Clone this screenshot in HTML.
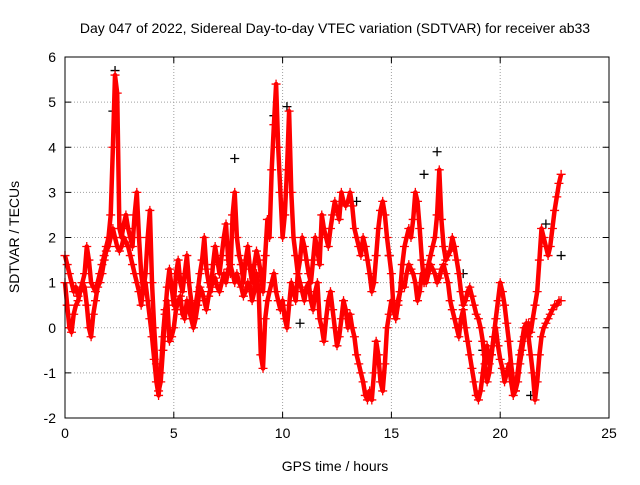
<!DOCTYPE html>
<html><head><meta charset="utf-8"><style>
body{margin:0;background:#fff}
svg text{font-family:"Liberation Sans",sans-serif;fill:#000}
</style></head><body>
<svg id="chart" width="640" height="480" xmlns="http://www.w3.org/2000/svg">
<rect width="640" height="480" fill="#fff"/>
<text x="335" y="33" font-size="14" text-anchor="middle">Day 047 of 2022, Sidereal Day-to-day VTEC variation (SDTVAR) for receiver ab33</text>
<text x="0" y="0" font-size="14" text-anchor="middle" transform="translate(19,237) rotate(-90)">SDTVAR / TECUs</text>
<text x="335" y="471" font-size="14" text-anchor="middle">GPS time / hours</text>
<g id="grid"></g>
<g id="ticks"></g>
<g id="marks"></g>
<rect x="65" y="57" width="544" height="361" fill="none" stroke="#000" stroke-width="1"/>
</svg>
<script>
const xTicks=[0,5,10,15,20,25];
const yTicks=[-2,-1,0,1,2,3,4,5,6];
const step=0.1;
const trackA=[1.6,1.4,1.2,1.0,0.8,0.9,0.7,0.8,1.0,1.2,
1.8,1.5,1.0,0.9,0.8,1.0,1.2,1.4,1.6,1.8,
2.0,2.5,4.0,5.6,5.2,2.2,2.0,2.3,2.5,2.2,
2.0,1.8,2.5,3.0,2.0,1.2,0.8,1.2,2.0,2.6,
1.0,0.0,-0.8,-1.4,-1.2,-0.5,0.3,0.9,1.3,0.9,
0.5,1.2,1.5,1.0,0.8,1.2,1.6,1.0,0.6,0.3,
0.5,0.8,1.2,1.5,2.0,1.3,1.0,0.8,1.4,1.8,
1.5,1.2,1.6,2.0,2.3,1.5,1.2,2.5,3.0,2.0,
1.6,1.4,1.0,1.5,1.8,1.3,1.0,1.4,1.7,1.5,
1.2,0.8,1.6,2.4,2.0,3.5,4.5,5.4,4.0,3.0,
2.0,2.5,3.5,4.8,3.0,2.0,1.6,1.2,1.5,2.0,
1.8,1.5,1.2,1.0,1.5,2.0,1.7,1.4,2.5,2.2,
2.0,1.8,2.2,2.5,2.8,2.6,2.4,3.0,2.8,2.7,
2.8,3.0,2.7,2.2,2.0,1.8,1.6,2.0,1.8,1.5,
1.2,0.8,1.0,1.6,2.2,2.6,2.8,2.5,2.0,1.6,
1.2,0.4,0.2,0.6,0.8,1.4,1.8,2.0,2.2,2.0,
2.4,3.0,2.8,2.2,1.5,1.0,1.2,1.4,1.6,1.8,
2.0,2.5,3.5,2.4,1.8,1.5,1.6,1.7,2.0,1.8,
1.5,1.2,0.8,0.5,0.6,0.8,0.9,0.7,0.5,0.3,
0.2,0.0,-0.3,-0.8,-1.2,-1.0,-0.6,-0.2,0.2,0.6,
1.0,0.8,0.5,0.1,-0.3,-0.8,-1.2,-1.4,-1.2,-0.8,
-0.5,-0.2,0.0,0.1,-0.1,0.2,0.5,0.8,1.5,2.2,
2.0,1.8,1.6,1.8,2.2,2.6,2.9,3.2,3.4];
const trackB=[1.0,0.5,0.0,-0.1,0.3,0.5,0.6,0.8,1.0,0.9,
0.5,0.0,-0.2,0.3,0.6,0.9,1.0,1.2,1.5,1.7,
1.8,2.0,2.2,2.0,1.8,1.7,1.8,2.0,1.9,1.8,
1.6,1.4,1.2,1.0,0.8,0.5,0.9,1.0,0.6,0.2,
-0.2,-0.7,-1.2,-1.5,-1.0,-0.2,0.4,0.6,-0.3,-0.2,
0.0,0.4,0.6,0.7,0.3,0.2,0.6,0.4,0.2,0.0,
0.2,0.5,0.9,0.8,0.6,0.4,0.7,0.9,1.0,1.1,
0.9,0.8,1.0,1.2,1.0,1.3,1.4,1.2,1.0,1.2,
1.0,0.9,0.7,0.8,1.0,0.9,0.6,0.8,1.2,0.8,
-0.6,-0.9,0.2,0.6,0.8,1.0,1.2,0.8,0.6,0.4,
0.6,0.2,0.0,0.5,1.0,0.8,0.6,1.2,1.0,0.8,
0.6,0.9,1.0,0.6,0.4,0.8,1.0,0.2,0.0,-0.3,
0.2,0.6,0.8,0.4,0.0,-0.4,-0.2,0.2,0.6,0.4,
0.0,0.3,0.0,-0.2,-0.6,-0.8,-1.0,-1.2,-1.5,-1.6,
-1.4,-1.6,-1.0,-0.3,-0.6,-1.2,-1.4,-0.8,0.0,0.3,
0.6,0.4,0.2,0.5,0.8,1.0,0.9,1.2,1.4,1.3,
1.2,1.0,0.6,0.8,1.2,1.0,1.0,1.2,1.4,1.3,
1.2,1.0,1.1,1.3,1.4,1.2,1.0,0.6,0.4,0.2,
0.0,-0.2,0.2,0.4,0.0,-0.3,-0.6,-0.9,-1.2,-1.5,
-1.6,-1.4,-1.0,-0.6,-0.4,-0.8,-0.6,-0.2,0.0,-0.4,
-0.7,-0.9,-1.2,-1.0,-0.8,-1.2,-1.5,-1.4,-1.0,-0.6,
-0.3,0.0,0.1,-0.2,-0.6,-1.0,-1.6,-1.2,-0.6,-0.2,
0.0,0.1,0.2,0.3,0.4,0.5,0.5,0.6,0.6];
const blackX=[2.2,2.3,7.8,9.6,10.2,10.8,13.4,14.9,16.5,17.1,18.3,19.2,21.4,22.1,22.8];
const blackY=[4.8,5.7,3.75,4.7,4.9,0.1,2.8,1.6,3.4,3.9,1.2,-0.5,-1.5,2.3,1.6];
const X0=65,X1=609,Y0=418,Y1=57;
function sx(v){return X0+(v-0)/(25-0)*(X1-X0);}
function sy(v){return Y0-(v+2)/8*(Y0-Y1);}
const NS='http://www.w3.org/2000/svg';
const grid=document.getElementById('grid'),ticks=document.getElementById('ticks'),marks=document.getElementById('marks');
function mk(t,a,p){const e=document.createElementNS(NS,t);for(const k in a)e.setAttribute(k,a[k]);p.appendChild(e);return e;}
xTicks.forEach(v=>{
 const x=sx(v);
 if(v>0&&v<25){const g=mk('line',{x1:x,x2:x,y1:Y1,y2:Y0,stroke:'#a0a0a0','stroke-dasharray':'1,2'},grid);
 
 }
 const t=mk('text',{x:x,y:Y0+20,'font-size':14,'text-anchor':'middle'},ticks);t.textContent=v;
 
 
 mk('line',{x1:x,x2:x,y1:Y0,y2:Y0-6,stroke:'#000'},ticks);
 mk('line',{x1:x,x2:x,y1:Y1,y2:Y1+6,stroke:'#000'},ticks);
});
yTicks.forEach(v=>{
 const y=sy(v);
 if(v>-2&&v<6){const g=mk('line',{x1:X0,x2:X1,y1:y,y2:y,stroke:'#a0a0a0','stroke-dasharray':'1,2'},grid);
 
 }
 const t=mk('text',{x:X0-9,y:y+5,'font-size':14,'text-anchor':'end'},ticks);t.textContent=v;
 
 
 mk('line',{x1:X0,x2:X0+6,y1:y,y2:y,stroke:'#000'},ticks);
 mk('line',{x1:X1,x2:X1-6,y1:y,y2:y,stroke:'#000'},ticks);
});
function cross(x,y,c,p){mk('path',{d:`M${x-4.5},${y}h9M${x},${y-4.5}v9`,stroke:c,'stroke-width':1.3,fill:'none'},p);}
const bg=mk('g',{},marks);


blackX.forEach((v,i)=>cross(sx(v),sy(blackY[i]),'#000',bg));
[trackA,trackB].forEach((tr,k)=>{
 const g=mk('g',{},marks);
 
 
 const pts=tr.map((v,i)=>sx(i*step).toFixed(1)+','+sy(v).toFixed(1)).join(' ');
 mk('polyline',{points:pts,fill:'none',stroke:'#f00','stroke-width':4.5,'stroke-linejoin':'round'},g);
 tr.forEach((v,i)=>cross(sx(i*step),sy(v),'#f00',g));
});
</script>
</body></html>
